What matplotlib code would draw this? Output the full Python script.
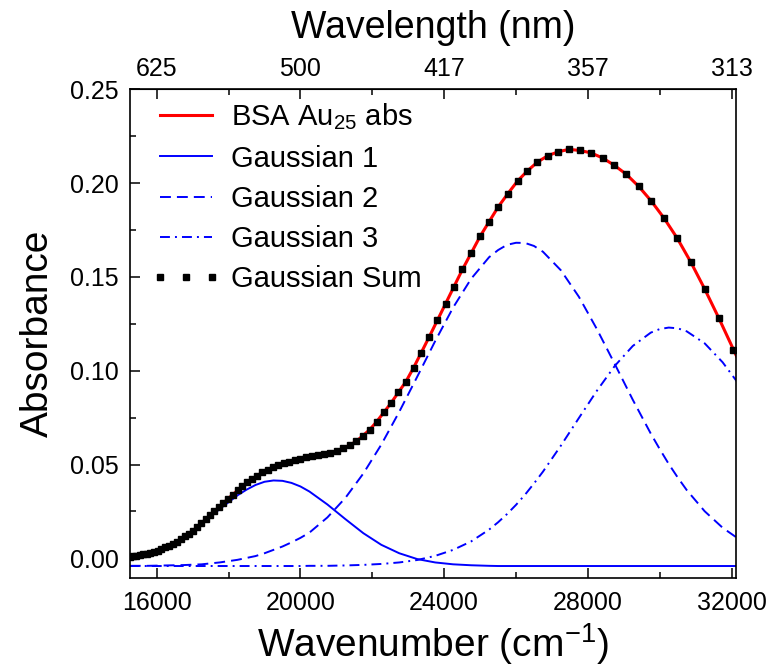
import matplotlib
matplotlib.use("Agg")
import matplotlib.pyplot as plt
from matplotlib.ticker import MultipleLocator, FormatStrFormatter

plt.rcParams["font.family"] = ["Liberation Sans", "DejaVu Sans"]

# measured spectrum (read every 4 nm); the Gaussian sum lies on it within a pixel
wavelength_nm = [656, 652, 648, 644, 640, 636, 632, 628, 624, 620, 616, 612,
                 608, 604, 600, 596, 592, 588, 584, 580, 576, 572, 568, 564,
                 560, 556, 552, 548, 544, 540, 536, 532, 528, 524, 520, 516,
                 512, 508, 504, 500, 496, 492, 488, 484, 480, 476, 472, 468,
                 464, 460, 456, 452, 448, 444, 440, 436, 432, 428, 424, 420,
                 416, 412, 408, 404, 400, 396, 392, 388, 384, 380, 376, 372,
                 368, 364, 360, 356, 352, 348, 344, 340, 336, 332, 328, 324,
                 320, 316, 312, 308]
absorbance = [0.0008, 0.0011, 0.0015, 0.0018, 0.0022, 0.0025, 0.0029, 0.0033,
              0.0038, 0.0048, 0.0058, 0.0067, 0.0077, 0.0089, 0.0103, 0.0118,
              0.0132, 0.0147, 0.0167, 0.0187, 0.0208, 0.0229, 0.0251, 0.0272,
              0.0295, 0.0318, 0.0339, 0.0362, 0.0384, 0.0406, 0.0423, 0.0441,
              0.0458, 0.0473, 0.0485, 0.0497, 0.0509, 0.0516, 0.0524, 0.0532,
              0.0538, 0.0544, 0.0550, 0.0557, 0.0564, 0.0572, 0.0587, 0.0603,
              0.0623, 0.0654, 0.0686, 0.0729, 0.0778, 0.0828, 0.0885, 0.0942,
              0.1016, 0.1097, 0.1181, 0.1268, 0.1357, 0.1448, 0.1540, 0.1627,
              0.1716, 0.1795, 0.1875, 0.1944, 0.2011, 0.2065, 0.2112, 0.2146,
              0.2167, 0.2180, 0.2174, 0.2161, 0.2134, 0.2095, 0.2047, 0.1983,
              0.1905, 0.1813, 0.1706, 0.1579, 0.1436, 0.1280, 0.1113, 0.0941]
gauss_sum = list(absorbance)

# fitted components on a wavenumber grid (cm-1)
fit_wavenumber = [15250, 15750, 16250, 16750, 17250, 17750, 18250, 18500,
                  18750, 19000, 19250, 19500, 19750, 20000, 20250, 20750,
                  21250, 21750, 22250, 22750, 23250, 23750, 24250, 24750,
                  25250, 25500, 25750, 26000, 26250, 26500, 26750, 27250,
                  27750, 28250, 28750, 29250, 29750, 30000, 30250, 30500,
                  30750, 31250, 31750, 32250]
gauss_1 = [-0.0004, 0.0017, 0.0058, 0.0113, 0.0184, 0.0262, 0.0336, 0.0366,
           0.0391, 0.0408, 0.0415, 0.0413, 0.0402, 0.0383, 0.0356, 0.0287,
           0.0209, 0.0134, 0.0072, 0.0027, -0.0004, -0.0022, -0.0032, -0.0037,
           -0.0040, -0.0041, -0.0041, -0.0041, -0.0041, -0.0041, -0.0041,
           -0.0041, -0.0041, -0.0041, -0.0041, -0.0041, -0.0041, -0.0041,
           -0.0041, -0.0041, -0.0041, -0.0041, -0.0041, -0.0041]
gauss_2 = [-0.0040, -0.0040, -0.0038, -0.0036, -0.0032, -0.0022, -0.0008,
           0.0002, 0.0012, 0.0027, 0.0045, 0.0063, 0.0085, 0.0109, 0.0137,
           0.0218, 0.0322, 0.0452, 0.0606, 0.0781, 0.0968, 0.1158, 0.1337,
           0.1490, 0.1605, 0.1643, 0.1671, 0.1682, 0.1681, 0.1665, 0.1634,
           0.1535, 0.1394, 0.1222, 0.1035, 0.0845, 0.0665, 0.0582, 0.0503,
           0.0431, 0.0364, 0.0251, 0.0163, 0.0096]
gauss_3 = [-0.0041, -0.0041, -0.0041, -0.0041, -0.0041, -0.0041, -0.0041,
           -0.0041, -0.0041, -0.0041, -0.0041, -0.0041, -0.0041, -0.0041,
           -0.0040, -0.0040, -0.0038, -0.0035, -0.0030, -0.0022, -0.0009,
           0.0013, 0.0045, 0.0090, 0.0153, 0.0192, 0.0236, 0.0285, 0.0339,
           0.0399, 0.0462, 0.0601, 0.0748, 0.0893, 0.1026, 0.1132, 0.1203,
           0.1222, 0.1230, 0.1226, 0.1210, 0.1146, 0.1045, 0.0916]

bottom_ticks = [16000, 20000, 24000, 28000, 32000]
top_labels = ["625", "500", "417", "357", "313"]

wavenumber = [1e7 / nm for nm in wavelength_nm]

fig = plt.figure(figsize=(7.69, 6.69), dpi=100)
ax = fig.add_axes([0.169, 0.136, 0.7876, 0.7305])

ax.plot(wavenumber, absorbance, color="#FF0000", lw=2.2,
        label="BSA Au$_{\\mathregular{25}}$ abs")
ax.plot(fit_wavenumber, gauss_1, color="#0000FF", lw=1.4, label="Gaussian 1")
ax.plot(fit_wavenumber, gauss_2, color="#0000FF", lw=1.4,
        linestyle=(0, (5.6, 3.1)), label="Gaussian 2")
ax.plot(fit_wavenumber, gauss_3, color="#0000FF", lw=1.4,
        linestyle=(0, (5.1, 2.6, 1.0, 2.6)), label="Gaussian 3")
ax.plot(wavenumber, gauss_sum, linestyle="none", marker="s", ms=4.2,
        color="black", label="Gaussian Sum")

ax.set_xlim(15255, 32112)
ax.set_ylim(-0.0105, 0.25)
ax.set_xticks(bottom_ticks)
ax.xaxis.set_minor_locator(MultipleLocator(2000))
ax.yaxis.set_major_locator(MultipleLocator(0.05))
ax.yaxis.set_minor_locator(MultipleLocator(0.025))
ax.yaxis.set_major_formatter(FormatStrFormatter("%.2f"))
ax.tick_params(which="both", direction="in", width=1.1, labelsize=18,
               right=False, top=False)
ax.tick_params(axis="x", pad=9)
ax.tick_params(axis="y", pad=8)
ax.tick_params(which="major", length=7)
ax.tick_params(which="minor", length=4.5)
for spine in ax.spines.values():
    spine.set_linewidth(1.2)

top = ax.secondary_xaxis("top")
top.set_xticks(bottom_ticks, labels=top_labels)
top.xaxis.set_minor_locator(MultipleLocator(2000))
top.tick_params(which="both", direction="in", width=1.1, labelsize=18, pad=6)
top.tick_params(which="major", length=7)
top.tick_params(which="minor", length=4.5)
top.set_xlabel("Wavelength (nm)", fontsize=27, labelpad=14)

ax.set_xlabel("Wavenumber (cm$^{\\mathregular{-1}}$)", fontsize=28, labelpad=5)
ax.set_ylabel("Absorbance", fontsize=28, labelpad=10)

ax.legend(loc="upper left", bbox_to_anchor=(0.035, 0.975), frameon=False,
          fontsize=21, handlelength=2.4, handletextpad=0.35, labelspacing=0.42,
          borderpad=0, borderaxespad=0, numpoints=3)

fig.savefig("out.png", dpi=100)
